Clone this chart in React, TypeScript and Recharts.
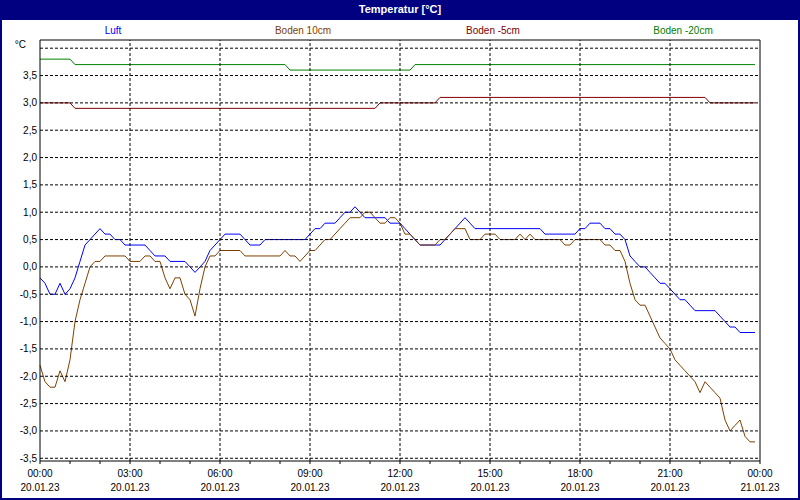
import {
  LineChart,
  Line,
  XAxis,
  YAxis,
  ReferenceLine,
} from 'recharts';

// 10-minute readings, 20.01.23 00:00 .. 23:50
const luft = [
  -0.2, -0.3, -0.5, -0.5, -0.3, -0.5, -0.4, -0.2, 0.1, 0.4, 0.5, 0.6,
  0.7, 0.6, 0.6, 0.5, 0.5, 0.4, 0.4, 0.4, 0.4, 0.4, 0.3, 0.2,
  0.2, 0.2, 0.1, 0.1, 0.1, 0.1, 0.0, -0.1, 0.0, 0.1, 0.3, 0.4,
  0.5, 0.6, 0.6, 0.6, 0.6, 0.5, 0.4, 0.4, 0.4, 0.5, 0.5, 0.5,
  0.5, 0.5, 0.5, 0.5, 0.5, 0.5, 0.6, 0.7, 0.7, 0.8, 0.8, 0.8,
  0.9, 1.0, 1.0, 1.1, 1.0, 0.9, 0.9, 0.9, 0.9, 0.9, 0.8, 0.8,
  0.8, 0.7, 0.6, 0.5, 0.4, 0.4, 0.4, 0.4, 0.4, 0.5, 0.6, 0.7,
  0.8, 0.9, 0.8, 0.7, 0.7, 0.7, 0.7, 0.7, 0.7, 0.7, 0.7, 0.7,
  0.7, 0.7, 0.7, 0.7, 0.7, 0.6, 0.6, 0.6, 0.6, 0.6, 0.6, 0.6,
  0.7, 0.7, 0.8, 0.8, 0.8, 0.7, 0.7, 0.6, 0.6, 0.5, 0.2, 0.1,
  0.0, 0.0, -0.1, -0.2, -0.3, -0.3, -0.4, -0.5, -0.6, -0.6, -0.7, -0.8,
  -0.8, -0.8, -0.8, -0.8, -0.9, -1.0, -1.1, -1.1, -1.2, -1.2, -1.2, -1.2,
];

const boden10 = [
  -1.8, -2.1, -2.2, -2.2, -1.9, -2.1, -1.7, -1.0, -0.6, -0.3, 0.0, 0.1,
  0.1, 0.2, 0.2, 0.2, 0.2, 0.2, 0.1, 0.1, 0.1, 0.2, 0.2, 0.1,
  0.1, -0.2, -0.4, -0.2, -0.2, -0.5, -0.6, -0.9, -0.4, 0.0, 0.2, 0.2,
  0.3, 0.3, 0.3, 0.3, 0.3, 0.2, 0.2, 0.2, 0.2, 0.2, 0.2, 0.2,
  0.2, 0.3, 0.2, 0.2, 0.1, 0.2, 0.3, 0.3, 0.4, 0.5, 0.5, 0.6,
  0.7, 0.8, 0.9, 0.9, 0.9, 1.0, 1.0, 0.9, 0.8, 0.8, 0.9, 0.9,
  0.8, 0.6, 0.6, 0.5, 0.4, 0.4, 0.4, 0.4, 0.5, 0.5, 0.6, 0.7,
  0.7, 0.7, 0.5, 0.5, 0.5, 0.6, 0.6, 0.6, 0.5, 0.5, 0.5, 0.5,
  0.6, 0.5, 0.6, 0.5, 0.5, 0.5, 0.5, 0.5, 0.5, 0.4, 0.4, 0.5,
  0.5, 0.5, 0.5, 0.5, 0.5, 0.4, 0.4, 0.3, 0.3, 0.1, -0.3, -0.6,
  -0.7, -0.7, -0.9, -1.1, -1.3, -1.4, -1.5, -1.7, -1.8, -1.9, -2.0, -2.1,
  -2.3, -2.1, -2.2, -2.3, -2.4, -2.8, -3.0, -2.9, -2.8, -3.1, -3.2, -3.2,
];

const boden5 = [
  3.0, 3.0, 3.0, 3.0, 3.0, 3.0, 3.0, 2.9, 2.9, 2.9, 2.9, 2.9,
  2.9, 2.9, 2.9, 2.9, 2.9, 2.9, 2.9, 2.9, 2.9, 2.9, 2.9, 2.9,
  2.9, 2.9, 2.9, 2.9, 2.9, 2.9, 2.9, 2.9, 2.9, 2.9, 2.9, 2.9,
  2.9, 2.9, 2.9, 2.9, 2.9, 2.9, 2.9, 2.9, 2.9, 2.9, 2.9, 2.9,
  2.9, 2.9, 2.9, 2.9, 2.9, 2.9, 2.9, 2.9, 2.9, 2.9, 2.9, 2.9,
  2.9, 2.9, 2.9, 2.9, 2.9, 2.9, 2.9, 2.9, 3.0, 3.0, 3.0, 3.0,
  3.0, 3.0, 3.0, 3.0, 3.0, 3.0, 3.0, 3.0, 3.1, 3.1, 3.1, 3.1,
  3.1, 3.1, 3.1, 3.1, 3.1, 3.1, 3.1, 3.1, 3.1, 3.1, 3.1, 3.1,
  3.1, 3.1, 3.1, 3.1, 3.1, 3.1, 3.1, 3.1, 3.1, 3.1, 3.1, 3.1,
  3.1, 3.1, 3.1, 3.1, 3.1, 3.1, 3.1, 3.1, 3.1, 3.1, 3.1, 3.1,
  3.1, 3.1, 3.1, 3.1, 3.1, 3.1, 3.1, 3.1, 3.1, 3.1, 3.1, 3.1,
  3.1, 3.1, 3.0, 3.0, 3.0, 3.0, 3.0, 3.0, 3.0, 3.0, 3.0, 3.0,
];

const boden20 = [
  3.8, 3.8, 3.8, 3.8, 3.8, 3.8, 3.8, 3.7, 3.7, 3.7, 3.7, 3.7,
  3.7, 3.7, 3.7, 3.7, 3.7, 3.7, 3.7, 3.7, 3.7, 3.7, 3.7, 3.7,
  3.7, 3.7, 3.7, 3.7, 3.7, 3.7, 3.7, 3.7, 3.7, 3.7, 3.7, 3.7,
  3.7, 3.7, 3.7, 3.7, 3.7, 3.7, 3.7, 3.7, 3.7, 3.7, 3.7, 3.7,
  3.7, 3.7, 3.6, 3.6, 3.6, 3.6, 3.6, 3.6, 3.6, 3.6, 3.6, 3.6,
  3.6, 3.6, 3.6, 3.6, 3.6, 3.6, 3.6, 3.6, 3.6, 3.6, 3.6, 3.6,
  3.6, 3.6, 3.6, 3.7, 3.7, 3.7, 3.7, 3.7, 3.7, 3.7, 3.7, 3.7,
  3.7, 3.7, 3.7, 3.7, 3.7, 3.7, 3.7, 3.7, 3.7, 3.7, 3.7, 3.7,
  3.7, 3.7, 3.7, 3.7, 3.7, 3.7, 3.7, 3.7, 3.7, 3.7, 3.7, 3.7,
  3.7, 3.7, 3.7, 3.7, 3.7, 3.7, 3.7, 3.7, 3.7, 3.7, 3.7, 3.7,
  3.7, 3.7, 3.7, 3.7, 3.7, 3.7, 3.7, 3.7, 3.7, 3.7, 3.7, 3.7,
  3.7, 3.7, 3.7, 3.7, 3.7, 3.7, 3.7, 3.7, 3.7, 3.7, 3.7, 3.7,
];

const hourTicks = [0, 1, 2, 3, 4, 5, 6, 7, 8, 9, 10, 11, 12, 13, 14, 15, 16, 17, 18, 19, 20, 21, 22, 23, 24];
const gridHours = [3, 6, 9, 12, 15, 18, 21];
const tempTicks = [-3.5, -3, -2.5, -2, -1.5, -1, -0.5, 0, 0.5, 1, 1.5, 2, 2.5, 3, 3.5, 4];

const series = [
  { key: 'luft', name: 'Luft', color: '#0000ff' },
  { key: 'boden10', name: 'Boden 10cm', color: '#804000' },
  { key: 'boden5', name: 'Boden -5cm', color: '#800000' },
  { key: 'boden20', name: 'Boden -20cm', color: '#008000' },
];

const data = luft.map((v, i) => ({
  t: i / 6,
  luft: v,
  boden10: boden10[i],
  boden5: boden5[i],
  boden20: boden20[i],
}));

const FONT = "Tahoma, 'Liberation Sans', Arial, sans-serif";

function TimeTick({ x, y, payload }: any) {
  const h = payload.value;
  if (h % 3 !== 0) return <g />;
  const time = String(h % 24).padStart(2, '0') + ':00';
  const date = h === 24 ? '21.01.23' : '20.01.23';
  return (
    <g fontFamily={FONT} fontSize={10} fill="#000">
      <text x={x} y={y} dy={11} textAnchor="middle">{time}</text>
      <text x={x} y={y} dy={25} textAnchor="middle">{date}</text>
    </g>
  );
}

function TempTick({ x, y, payload }: any) {
  const v = payload.value;
  if (v === 4) {
    return (
      <text x={x - 11} y={y - 4} dy="0.355em" textAnchor="end" fontFamily={FONT} fontSize={10} fill="#000">
        °C
      </text>
    );
  }
  return (
    <text x={x} y={y} dy="0.355em" textAnchor="end" fontFamily={FONT} fontSize={10} fill="#000">
      {v.toFixed(1).replace('.', ',')}
    </text>
  );
}

export default function App() {
  return (
    <div style={{ position: 'absolute', left: 0, top: 0, width: 800, height: 500, background: '#fff', fontFamily: FONT }}>
      <div
        style={{
          position: 'absolute', left: 0, top: 0, width: 800, height: 20,
          background: '#000080', color: '#fff', fontWeight: 'bold', fontSize: 11,
          textAlign: 'center', lineHeight: '19px',
        }}
      >
        Temperatur [°C]
      </div>

      <div style={{ position: 'absolute', left: 18, top: 24, display: 'flex', fontSize: 10 }}>
        {series.map((s) => (
          <div key={s.key} style={{ width: 190, textAlign: 'center', color: s.color, lineHeight: '14px' }}>
            {s.name}
          </div>
        ))}
      </div>

      <div style={{ position: 'absolute', left: 0, top: 0 }}>
        <LineChart
          width={800}
          height={500}
          data={data}
          margin={{ top: 40, right: 40, left: 0, bottom: 9 }}
        >
          <XAxis
            type="number"
            dataKey="t"
            domain={[0, 24]}
            ticks={hourTicks}
            interval={0}
            height={30}
            tickSize={3}
            tickMargin={2}
            axisLine={{ stroke: '#000' }}
            tickLine={{ stroke: '#000' }}
            tick={<TimeTick />}
          />
          <YAxis
            type="number"
            domain={[-3.55, 4.15]}
            allowDataOverflow
            ticks={tempTicks}
            interval={0}
            width={40}
            tickSize={0}
            tickMargin={3}
            axisLine={{ stroke: '#000' }}
            tickLine={false}
            tick={<TempTick />}
          />
          {series.map((s) => (
            <Line
              key={s.key}
              name={s.name}
              type="linear"
              dataKey={s.key}
              stroke={s.color}
              strokeWidth={1}
              dot={false}
              activeDot={false}
              isAnimationActive={false}
            />
          ))}
          {tempTicks.map((v) => (
            <ReferenceLine key={'h' + v} y={v} stroke="#000" strokeDasharray="3 2" />
          ))}
          {gridHours.map((h) => (
            <ReferenceLine key={'v' + h} x={h} stroke="#000" strokeDasharray="3 2" />
          ))}
          <ReferenceLine y={4.15} stroke="#000" />
          <ReferenceLine x={24} stroke="#000" />
        </LineChart>
      </div>

      <div
        style={{
          position: 'absolute', left: 0, top: 0, width: 800, height: 500,
          boxSizing: 'border-box', border: '2px solid #000080', pointerEvents: 'none',
        }}
      />
    </div>
  );
}
